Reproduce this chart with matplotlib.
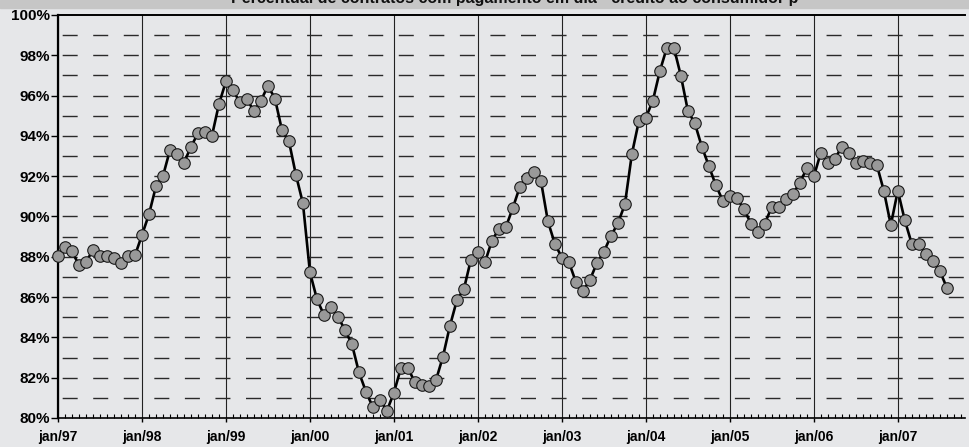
import numpy as np
import matplotlib
matplotlib.use("Agg")
import matplotlib.pyplot as plt
from matplotlib.patches import Rectangle
from matplotlib.ticker import MultipleLocator, FixedLocator, FuncFormatter

plt.rcParams['font.family'] = ['Liberation Sans', 'DejaVu Sans']

# monthly values, jan/97 .. aug/07 (%)
values = [
    88.04, 88.50, 88.27, 87.58, 87.76, 88.32, 88.04, 88.04, 87.92, 87.69, 88.04, 88.07,
    89.08, 90.11, 91.50, 92.01, 93.30, 93.10, 92.67, 93.46, 94.13, 94.18, 94.01, 95.58,
    96.71, 96.26, 95.67, 95.83, 95.22, 95.75, 96.49, 95.85, 94.29, 93.73, 92.06, 90.65,
    87.23, 85.90, 85.11, 85.49, 85.03, 84.37, 83.66, 82.27, 81.31, 80.53, 80.91, 80.36,
    81.26, 82.48, 82.48, 81.77, 81.64, 81.57, 81.87, 83.04, 84.57, 85.85, 86.40, 87.86,
    88.25, 87.72, 88.80, 89.38, 89.48, 90.44, 91.48, 91.93, 92.23, 91.78, 89.76, 88.64,
    87.96, 87.74, 86.75, 86.29, 86.85, 87.69, 88.25, 89.03, 89.66, 90.60, 93.10, 94.74,
    94.91, 95.75, 97.22, 98.38, 98.38, 96.99, 95.25, 94.62, 93.46, 92.51, 91.55, 90.78,
    91.02, 90.90, 90.39, 89.65, 89.25, 89.65, 90.49, 90.49, 90.87, 91.10, 91.68, 92.39,
    91.99, 93.17, 92.67, 92.87, 93.45, 93.17, 92.67, 92.74, 92.67, 92.56, 91.28, 89.58,
    91.28, 89.81, 88.64, 88.64, 88.16, 87.80, 87.30, 86.47,
]
year_labels = ['jan/97', 'jan/98', 'jan/99', 'jan/00', 'jan/01', 'jan/02',
               'jan/03', 'jan/04', 'jan/05', 'jan/06', 'jan/07']
y_ticks = [80, 82, 84, 86, 88, 90, 92, 94, 96, 98, 100]
titulo = "Percentual de contratos com pagamento em dia - crédito ao consumidor p"

bg = '#e6e7e9'
W, H = 969, 447
fig = plt.figure(figsize=(W / 100, H / 100), dpi=100, facecolor=bg)
ax = fig.add_axes([58 / W, (H - 418) / H, (965 - 58) / W, (418 - 15) / H])
ax.set_facecolor(bg)

# gray title band, title cut off by the top edge (as in the original)
fig.patches.append(Rectangle((0, 1 - 8 / H), 1, 8 / H, transform=fig.transFigure,
                             color='#c6c6c6', zorder=0))
fig.text(515 / W, 1 - 3.5 / H, titulo, ha='center', va='baseline',
         fontsize=11.5, fontweight='bold', color='#111111')

x = np.arange(len(values))
ax.set_xlim(0, 129.6)
ax.set_ylim(80, 100)

# dashed horizontal lines every 1%
for yv in range(81, 100):
    ax.axhline(yv, color='#2a2a2a', lw=1.0, linestyle=(19.0, (10.8, 11.2)), zorder=1)

ax.set_xticks(np.arange(0, 12 * len(year_labels), 12))
ax.set_xticklabels(year_labels)
ax.xaxis.set_minor_locator(MultipleLocator(1))
ax.grid(axis='x', which='major', color='#222222', lw=0.8, zorder=1)
ax.set_axisbelow(True)

ax.yaxis.set_major_locator(FixedLocator(y_ticks))
ax.yaxis.set_major_formatter(FuncFormatter(lambda v, p: f"{v:.0f}%"))

ax.plot(x, values, color='black', lw=1.9, marker='o', markersize=8.3,
        markerfacecolor='#999999', markeredgecolor='#1a1a1a', markeredgewidth=0.8,
        zorder=3, clip_on=False)

ax.tick_params(axis='y', which='major', direction='out', length=5, width=1,
               pad=1, labelsize=11)
ax.tick_params(axis='x', which='major', direction='out', length=3, width=1,
               pad=6, labelsize=10)
ax.tick_params(axis='x', which='minor', direction='in', length=3, width=0.8)
for lab in ax.get_xticklabels() + ax.get_yticklabels():
    lab.set_fontweight('bold')

ax.spines['right'].set_visible(False)
ax.spines['left'].set_linewidth(1.6)
ax.spines['top'].set_linewidth(1.4)
ax.spines['bottom'].set_linewidth(1.2)

fig.savefig("out.png", dpi=100, facecolor=bg)
